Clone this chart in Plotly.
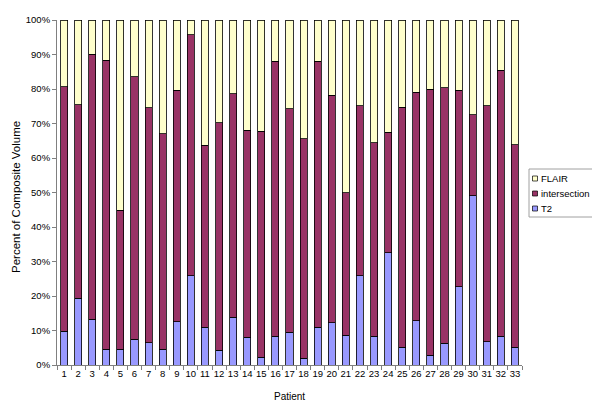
import plotly.graph_objects as go

patients = [str(i) for i in range(1, 34)]
# cumulative top of intersection (T2 + intersection), percent
cum_top = [80.6, 75.4, 90.1, 88.3, 44.9, 83.5, 74.6, 67.1, 79.6, 95.7,
           63.7, 70.2, 78.6, 68.0, 67.8, 88.0, 74.3, 65.6, 88.0, 78.2,
           49.9, 75.1, 64.4, 67.4, 74.7, 79.0, 80.0, 80.3, 79.6, 72.6,
           75.1, 85.4, 63.9]
t2 = [9.8, 19.4, 13.3, 4.6, 4.5, 7.5, 6.4, 4.6, 12.5, 25.9,
      10.9, 4.3, 13.9, 8.0, 2.2, 8.3, 9.5, 1.9, 10.9, 12.2,
      8.6, 25.8, 8.3, 32.5, 5.2, 12.8, 2.9, 6.3, 22.7, 49.0,
      6.7, 8.3, 5.2]
intersection = [round(c - t, 1) for c, t in zip(cum_top, t2)]
flair = [round(100 - c, 1) for c in cum_top]

series_names = ["FLAIR", "intersection", "T2"]
series_colors = {"T2": "#9999FF", "intersection": "#993366", "FLAIR": "#FFFFCC"}

FAM = "Liberation Sans, Arial, sans-serif"
line = dict(color="#000000", width=0.8)

# page body has an 8px default margin; compensate so the plot lands at
# screen x 57..522, y 20..365
OFF = 8
SL, SR, ST, SB = 57, 522, 20, 365
W, H = 600 - OFF, 409 - OFF
PW, PH = SR - SL, SB - ST


def px(x):
    return (x - SL) / PW


def py(y):
    return (SB - y) / PH


fig = go.Figure()
fig.add_trace(go.Bar(x=patients, y=t2, name="T2",
                     marker=dict(color=series_colors["T2"], line=line)))
fig.add_trace(go.Bar(x=patients, y=intersection, name="intersection",
                     marker=dict(color=series_colors["intersection"], line=line)))
fig.add_trace(go.Bar(x=patients, y=flair, name="FLAIR",
                     marker=dict(color=series_colors["FLAIR"], line=line)))

# custom legend (Excel-style, compact)
shapes = [dict(type="rect", xref="paper", yref="paper", layer="below",
               x0=px(529), x1=px(593), y0=py(217), y1=py(169),
               line=dict(color="#A0A0A0", width=1), fillcolor="white")]
annotations = []
row_y = [178.5, 193.5, 208.5]
for name, yc in zip(series_names, row_y):
    shapes.append(dict(type="rect", xref="paper", yref="paper",
                       x0=px(532.5), x1=px(537.5), y0=py(yc + 2.5), y1=py(yc - 2.5),
                       line=dict(color="#000000", width=0.7),
                       fillcolor=series_colors[name]))
    annotations.append(dict(xref="paper", yref="paper", x=px(538.5), y=py(yc),
                            xanchor="left", yanchor="middle", text=name,
                            showarrow=False,
                            font=dict(family=FAM, size=9.5, color="#000000")))

# axis titles
annotations.append(dict(xref="paper", yref="paper", x=px(16), y=py(197),
                        xanchor="center", yanchor="middle", textangle=-90,
                        text="Percent of Composite Volume", showarrow=False,
                        font=dict(family=FAM, size=11.5, color="#000000")))
annotations.append(dict(xref="paper", yref="paper", x=px(289), y=py(396),
                        xanchor="center", yanchor="middle",
                        text="Patient", showarrow=False,
                        font=dict(family=FAM, size=10, color="#000000")))

fig.update_layout(
    barmode="stack",
    bargap=0.5,
    width=W, height=H,
    margin=dict(l=SL - OFF, r=600 - SR, t=ST - OFF, b=409 - SB),
    paper_bgcolor="white", plot_bgcolor="white",
    font=dict(family=FAM, size=9.5, color="#000000"),
    showlegend=False,
    shapes=shapes,
    annotations=annotations,
    xaxis=dict(type="category", showline=True, linecolor="#808080", linewidth=1,
               ticks="outside", tickson="boundaries", ticklen=4, tickcolor="#808080",
               tickangle=0, showgrid=False, automargin=False),
    yaxis=dict(range=[0, 100], tickvals=list(range(0, 101, 10)),
               ticktext=[f"{v}%" for v in range(0, 101, 10)],
               showline=True, linecolor="#808080", linewidth=1,
               ticks="outside", ticklen=4, tickcolor="#808080",
               showgrid=False, zeroline=False, automargin=False),
)

fig.write_html("out.html")
